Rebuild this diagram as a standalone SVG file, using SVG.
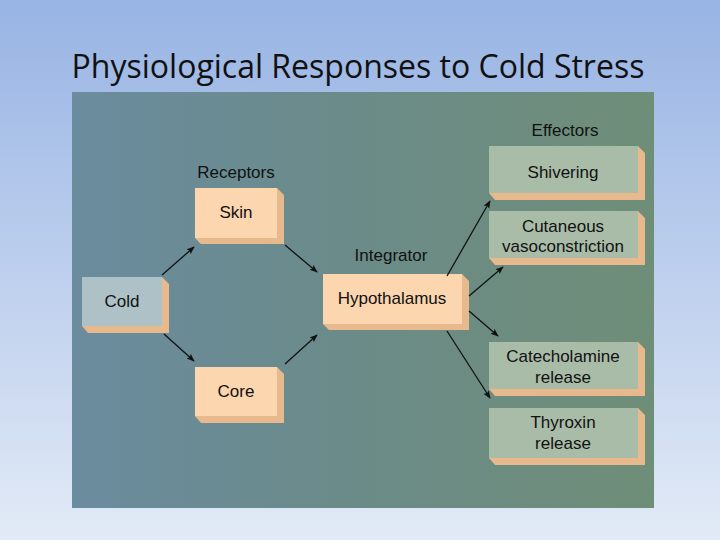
<svg xmlns="http://www.w3.org/2000/svg" width="720" height="540" viewBox="0 0 720 540">
<defs>
<linearGradient id="bg" x1="0" y1="0" x2="0" y2="1"><stop offset="0" stop-color="#98b4e4"/><stop offset="1" stop-color="#e2eaf6"/></linearGradient>
<linearGradient id="pn" x1="0" y1="0" x2="1" y2="0"><stop offset="0" stop-color="#6a8c9e"/><stop offset="0.5" stop-color="#6b8b88"/><stop offset="1" stop-color="#6f8e78"/></linearGradient>
<marker id="ah" viewBox="0 0 10 10" refX="9" refY="5" markerWidth="8" markerHeight="8" orient="auto" markerUnits="userSpaceOnUse"><path d="M0,1 L10,5 L0,9 L2,5 Z" fill="#111"/></marker>
<style>
.t{font-family:"Liberation Sans",Arial,sans-serif;font-size:17px;fill:#111;text-anchor:middle}
.side{fill:#e8b98c}
.pe{fill:#fbd6ae}
.gr{fill:#a9bca8}
.bl{fill:#adc1c7}
.c line{stroke:#111;stroke-width:1.3;marker-end:url(#ah)}
</style>
</defs>
<rect width="720" height="540" fill="url(#bg)"/>
<text x="358" y="78" font-family="Open Sans,'Liberation Sans',sans-serif" font-size="32" fill="#111" text-anchor="middle">Physiological Responses to Cold Stress</text>
<rect x="72" y="92" width="582" height="416" fill="url(#pn)"/>
<text class="t" x="236" y="178">Receptors</text>
<text class="t" x="391" y="261">Integrator</text>
<text class="t" x="565" y="136">Effectors</text>
<g id="skin"><path class="side" d="M195,238 L201,244 L284,244 L284,195 L277,188 L277,238 Z"/><rect class="pe" x="195" y="188" width="82" height="50"/><text class="t" x="236" y="218">Skin</text></g>
<g id="cold"><path class="side" d="M82,326 L88,333 L169,333 L169,284 L162,277 L162,326 Z"/><rect class="bl" x="82" y="277" width="80" height="49"/><text class="t" x="122" y="307">Cold</text></g>
<g id="core"><path class="side" d="M195,416 L201,423 L284,423 L284,374 L277,367 L277,416 Z"/><rect class="pe" x="195" y="367" width="82" height="49"/><text class="t" x="236" y="397">Core</text></g>
<g id="hypo"><path class="side" d="M323,324 L329,330 L469,330 L469,281 L462,274 L462,324 Z"/><rect class="pe" x="323" y="274" width="139" height="50"/><text class="t" x="392" y="304">Hypothalamus</text></g>
<g id="shiv"><path class="side" d="M489,193 L495,200 L645,200 L645,153 L638,146 L638,193 Z"/><rect class="gr" x="489" y="146" width="149" height="47"/><text class="t" x="563" y="178">Shivering</text></g>
<g id="cut"><path class="side" d="M489,258 L495,265 L645,265 L645,218 L638,211 L638,258 Z"/><rect class="gr" x="489" y="211" width="149" height="47"/><text class="t" x="563" y="232">Cutaneous</text><text class="t" x="563" y="252">vasoconstriction</text></g>
<g id="cat"><path class="side" d="M489,389 L495,396 L645,396 L645,349 L638,342 L638,389 Z"/><rect class="gr" x="489" y="342" width="149" height="47"/><text class="t" x="563" y="362">Catecholamine</text><text class="t" x="563" y="383">release</text></g>
<g id="thy"><path class="side" d="M489,458 L495,465 L645,465 L645,415 L638,408 L638,458 Z"/><rect class="gr" x="489" y="408" width="149" height="50"/><text class="t" x="563" y="428">Thyroxin</text><text class="t" x="563" y="449">release</text></g>
<g class="c" id="connectors">
<line x1="162" y1="275" x2="194" y2="247"/>
<line x1="285" y1="245" x2="317" y2="272"/>
<line x1="164" y1="334" x2="194" y2="361"/>
<line x1="285" y1="364" x2="317" y2="335"/>
<line x1="447" y1="276" x2="490" y2="201"/>
<line x1="469" y1="296" x2="503" y2="267"/>
<line x1="469" y1="311" x2="498" y2="336"/>
<line x1="447" y1="331" x2="490" y2="398"/>
</g>
</svg>
